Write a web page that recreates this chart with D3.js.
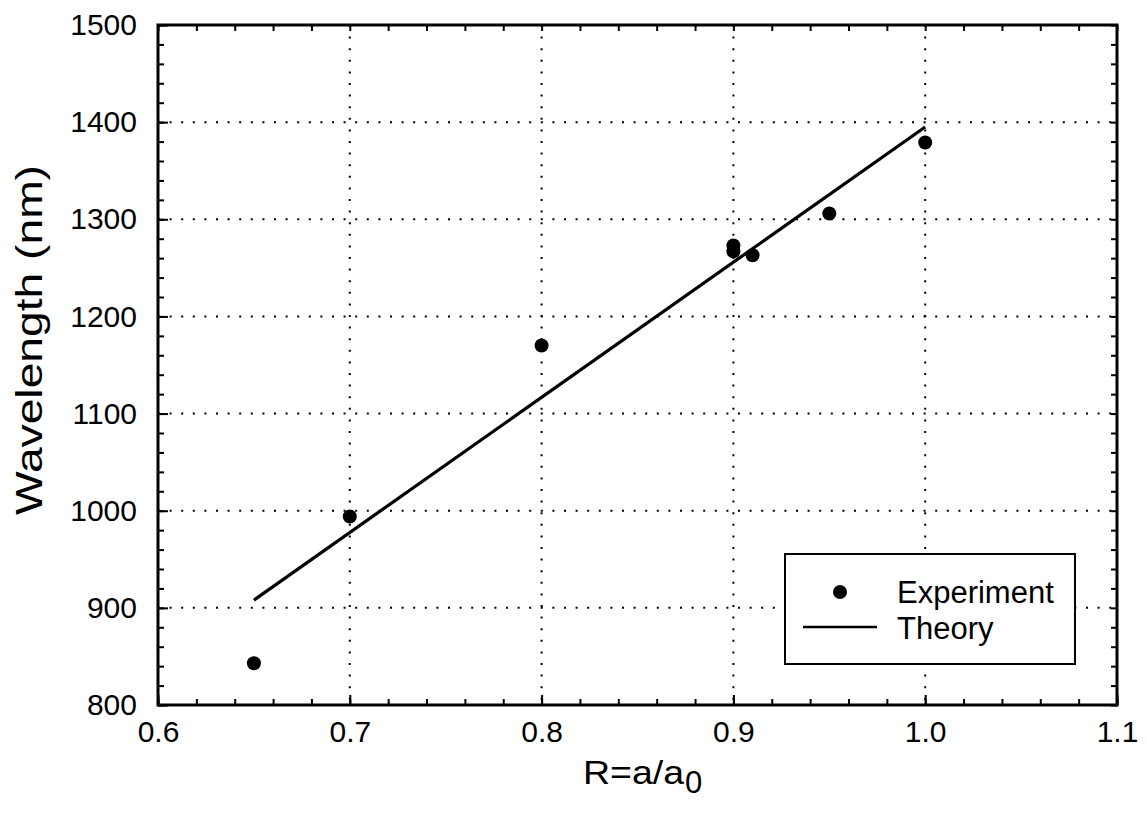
<!DOCTYPE html>
<html>
<head>
<meta charset="utf-8">
<script src="https://cdn.jsdelivr.net/npm/d3@7"></script>
<style>
  body { margin: 0; background: #fff; }
  text { font-family: "Liberation Sans", Arial, sans-serif; fill: #000; }
</style>
</head>
<body>
<div id="chart"></div>
<script>
// measured points
var expR = [0.65, 0.70, 0.80, 0.90, 0.90, 0.91, 0.95, 1.00];
var expWl = [843, 994, 1170, 1273, 1267, 1263, 1306, 1379];

// theory line
var theoryR = [0.65, 1.00];
var theoryWl = [908, 1395];

var xTicks = [0.6, 0.7, 0.8, 0.9, 1.0, 1.1];
var yTicks = [800, 900, 1000, 1100, 1200, 1300, 1400, 1500];

var W = 1147, H = 829;
var margin = { top: 25, right: 30, bottom: 124, left: 158 },
  width = W - margin.left - margin.right,
  height = H - margin.top - margin.bottom;

var svg = d3.select("#chart").append("svg")
  .attr("width", W).attr("height", H);

var g = svg.append("g")
  .attr("transform", "translate(" + margin.left + "," + margin.top + ")");

var x = d3.scaleLinear().domain([0.6, 1.1]).range([0, width]);
var y = d3.scaleLinear().domain([800, 1500]).range([height, 0]);

// dotted grid
g.append("g").selectAll("line").data(xTicks.slice(1, -1)).enter().append("line")
  .attr("x1", d => x(d)).attr("x2", d => x(d))
  .attr("y1", 0).attr("y2", height)
  .attr("stroke", "#000").attr("stroke-width", 2)
  .attr("stroke-dasharray", "2 9.6");
g.append("g").selectAll("line").data(yTicks.slice(1, -1)).enter().append("line")
  .attr("y1", d => y(d)).attr("y2", d => y(d))
  .attr("x1", 0).attr("x2", width)
  .attr("stroke", "#000").attr("stroke-width", 2)
  .attr("stroke-dasharray", "2 9.6");

// axes with inward ticks on all sides
var xMinor = d3.range(0.6, 1.1001, 0.02);
var yMinor = d3.range(800, 1500.1, 20);

function tickStyle(sel) {
  sel.select(".domain").remove();
  sel.selectAll("line").attr("stroke", "#000").attr("stroke-width", 2);
  sel.selectAll("text").style("font-size", "30px");
}

g.append("g").attr("transform", "translate(0," + height + ")")
  .call(d3.axisBottom(x).tickValues(xMinor).tickSize(-6).tickFormat(""))
  .call(tickStyle);
g.append("g").attr("transform", "translate(0," + height + ")")
  .call(d3.axisBottom(x).tickValues(xTicks).tickSize(-10).tickPadding(16).tickFormat(d3.format(".1f")))
  .call(tickStyle);
g.append("g")
  .call(d3.axisTop(x).tickValues(xMinor).tickSize(-6).tickFormat(""))
  .call(tickStyle);
g.append("g")
  .call(d3.axisLeft(y).tickValues(yMinor).tickSize(-6).tickFormat(""))
  .call(tickStyle);
g.append("g")
  .call(d3.axisLeft(y).tickValues(yTicks).tickSize(-10).tickPadding(21).tickFormat(d3.format("d")))
  .call(tickStyle);
g.append("g").attr("transform", "translate(" + width + ",0)")
  .call(d3.axisRight(y).tickValues(yMinor).tickSize(-6).tickFormat(""))
  .call(tickStyle);

// frame
g.append("rect").attr("width", width).attr("height", height)
  .attr("fill", "none").attr("stroke", "#000").attr("stroke-width", 3);

// theory line
var line = d3.line().x(d => x(d[0])).y(d => y(d[1]));
g.append("path")
  .datum(theoryR.map((r, i) => [r, theoryWl[i]]))
  .attr("d", line)
  .attr("fill", "none").attr("stroke", "#000").attr("stroke-width", 3.2);

// experiment points
g.append("g").selectAll("circle")
  .data(expR.map((r, i) => [r, expWl[i]]))
  .enter().append("circle")
  .attr("cx", d => x(d[0])).attr("cy", d => y(d[1]))
  .attr("r", 7).attr("fill", "#000");

// legend
var leg = svg.append("g");
leg.append("rect").attr("x", 785).attr("y", 554).attr("width", 290).attr("height", 110)
  .attr("fill", "#fff").attr("stroke", "#000").attr("stroke-width", 2);
leg.append("circle").attr("cx", 840).attr("cy", 592).attr("r", 7).attr("fill", "#000");
leg.append("line").attr("x1", 803).attr("x2", 877).attr("y1", 627).attr("y2", 627)
  .attr("stroke", "#000").attr("stroke-width", 2.5);
leg.append("text").attr("x", 897).attr("y", 603).style("font-size", "31px").text("Experiment");
leg.append("text").attr("x", 897).attr("y", 639).style("font-size", "31px").text("Theory");

// axis titles (the scanned titles are wide, so stretch them to their measured length)
svg.append("text")
  .attr("transform", "translate(42,515) rotate(-90)")
  .attr("textLength", 350)
  .attr("lengthAdjust", "spacingAndGlyphs")
  .style("font-size", "36px")
  .text("Wavelength (nm)");

var xt = svg.append("text")
  .attr("x", 583).attr("y", 784)
  .style("font-size", "33px");
xt.append("tspan").attr("textLength", 101).attr("lengthAdjust", "spacingAndGlyphs").text("R=a/a");
xt.append("tspan").attr("dy", 9).attr("dx", 1).style("font-size", "31px").text("0");
</script>
</body>
</html>
